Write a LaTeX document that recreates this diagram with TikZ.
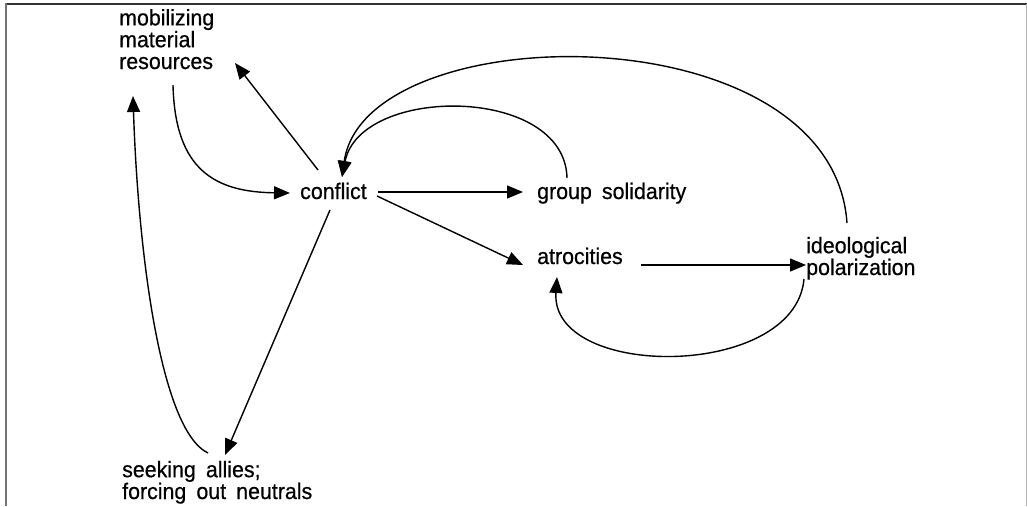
\documentclass[tikz,border=0pt]{standalone}
\usepackage{fontspec}
\setmainfont{Liberation Sans}[FakeStretch=0.95,WordSpace=1.7,FakeBold=0.6]
\usetikzlibrary{arrows.meta}
\begin{document}
\begin{tikzpicture}[x=1pt,y=-1pt,
  lbl/.style={anchor=base west,inner sep=0pt,align=left,font=\fontsize{22.5}{21.8}\selectfont},
  conn/.style={line width=1.4pt,-{Triangle[length=16pt,width=13pt]}},
  frameline/.style={line width=1.5pt}]
\useasboundingbox (0,0) rectangle (1027,506);
% frame
\draw[frameline,color=black!80] (5,4) -- (1027,4);
\draw[line width=2pt,color=black!55] (5.5,3.3) -- (5.5,506);
\draw[line width=1pt,color=black!30] (1026,4) -- (1026,506);
% nodes (base = baseline of last line)
\node[lbl] (mob) at (119,69) {mobilizing\\material\\resources};
\node[lbl] (con) at (300,199) {conflict};
\node[lbl] (grp) at (537,199) {group solidarity};
\node[lbl] (atr) at (537,264) {atrocities};
\node[lbl] (ide) at (806,275) {ideological\\polarization};
\node[lbl] (see) at (122,499) {seeking allies;\\forcing out neutrals};
% connector end points
\coordinate (mobOut) at (173,85);
\coordinate (mobInA) at (235,63);
\coordinate (mobInB) at (133,96);
\coordinate (conInL) at (290,193);
\coordinate (conOutUL) at (318,170);
\coordinate (conOutD) at (330,210);
\coordinate (conOutR) at (378,192);
\coordinate (conOutDR) at (377,196);
\coordinate (conInTop) at (342,177);
\coordinate (grpIn) at (523,192);
\coordinate (grpOut) at (567,178);
\coordinate (atrIn) at (523,265);
\coordinate (atrOut) at (641,265);
\coordinate (atrInB) at (557,277);
\coordinate (ideIn) at (806,265);
\coordinate (ideOutT) at (847,223);
\coordinate (ideOutB) at (804,279);
\coordinate (seeIn) at (225,455);
\coordinate (seeOut) at (208,453);
% connectors
\draw[conn] (mobOut) .. controls (175,170) and (215,192) .. (conInL);
\draw[conn] (conOutUL) -- (mobInA);
\draw[conn] (seeOut) .. controls (160,430) and (138,250) .. (mobInB);
\draw[conn] (conOutD) -- (seeIn);
\draw[conn] (conOutR) -- (grpIn);
\draw[conn] (conOutDR) -- (atrIn);
\draw[conn] (grpOut) .. controls (565,85) and (360,85) .. (conInTop);
\draw[conn] (ideOutT) .. controls (832,10) and (365,15) .. (conInTop);
\draw[conn] (atrOut) -- (ideIn);
\draw[conn] (ideOutB) .. controls (795,380) and (550,380) .. (atrInB);
\end{tikzpicture}
\end{document}
